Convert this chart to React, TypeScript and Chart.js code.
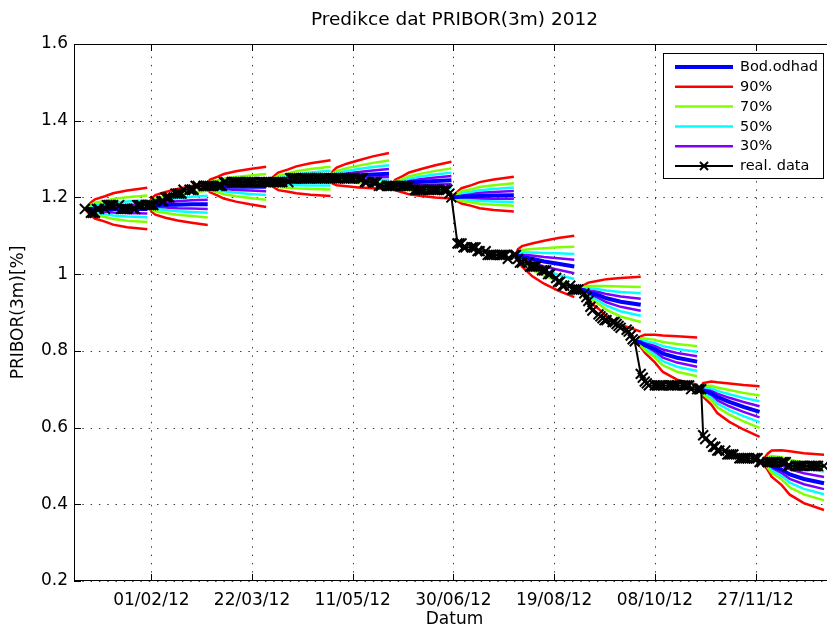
import React, { useEffect, useRef } from 'react';
import { Chart, registerables } from 'chart.js';
Chart.register(...registerables);

// ---------- texts ----------
const titleText = 'Predikce dat PRIBOR(3m) 2012';
const xTitleText = 'Datum';
const yTitleText = 'PRIBOR(3m)[%]';
const xTickLabels = ['01/02/12', '22/03/12', '11/05/12', '30/06/12', '19/08/12', '08/10/12', '27/11/12'];
const yTickValues = [0.2, 0.4, 0.6, 0.8, 1.0, 1.2, 1.4, 1.6];
const xRange = { min: -7.4, max: 370.45 }; // days from 1 Jan 2012
const legendLabels = ['Bod.odhad', '90%', '70%', '50%', '30%', 'real. data'];

// ---------- real data (PRIBOR 3M, one value per business day) ----------
const realDec2011 = [1.17]; // 30/12/2011
const realJan = [1.16, 1.16, 1.16, 1.17, 1.17, 1.17, 1.18, 1.18, 1.18, 1.18, 1.18, 1.17, 1.17, 1.17, 1.17, 1.17, 1.17, 1.18, 1.18, 1.18, 1.18, 1.18];
const realFeb = [1.18, 1.18, 1.19, 1.19, 1.19, 1.2, 1.2, 1.2, 1.21, 1.21, 1.21, 1.21, 1.22, 1.22, 1.22, 1.22, 1.23, 1.23, 1.23, 1.23, 1.23];
const realMar = [1.23, 1.23, 1.23, 1.23, 1.23, 1.24, 1.24, 1.24, 1.24, 1.24, 1.24, 1.24, 1.24, 1.24, 1.24, 1.24, 1.24, 1.24, 1.24, 1.24, 1.24, 1.24];
const realApr = [1.24, 1.24, 1.24, 1.24, 1.24, 1.24, 1.25, 1.25, 1.25, 1.25, 1.25, 1.25, 1.25, 1.25, 1.25, 1.25, 1.25, 1.25, 1.25, 1.25, 1.25];
const realMay = [1.25, 1.25, 1.25, 1.25, 1.25, 1.25, 1.25, 1.25, 1.25, 1.25, 1.25, 1.25, 1.24, 1.24, 1.24, 1.24, 1.24, 1.23, 1.23, 1.23, 1.23, 1.23, 1.23];
const realJun = [1.23, 1.23, 1.23, 1.23, 1.23, 1.23, 1.22, 1.22, 1.22, 1.22, 1.22, 1.22, 1.22, 1.22, 1.22, 1.22, 1.22, 1.22, 1.22, 1.21, 1.2];
const realJul = [1.08, 1.08, 1.08, 1.07, 1.07, 1.07, 1.07, 1.07, 1.06, 1.06, 1.06, 1.05, 1.05, 1.05, 1.05, 1.05, 1.05, 1.05, 1.05, 1.04, 1.05, 1.05];
const realAug = [1.04, 1.03, 1.03, 1.03, 1.02, 1.02, 1.02, 1.02, 1.01, 1.01, 1.01, 1.0, 1.0, 0.99, 0.98, 0.98, 0.97, 0.97, 0.97, 0.96, 0.96, 0.96, 0.96];
const realSep = [0.95, 0.94, 0.93, 0.915, 0.905, 0.895, 0.89, 0.885, 0.88, 0.88, 0.875, 0.875, 0.87, 0.865, 0.86, 0.855, 0.85, 0.84, 0.83, 0.825];
const realOct = [0.74, 0.73, 0.72, 0.715, 0.71, 0.71, 0.71, 0.71, 0.71, 0.71, 0.71, 0.71, 0.71, 0.71, 0.71, 0.71, 0.71, 0.71, 0.71, 0.7, 0.7, 0.7, 0.7];
const realNov = [0.58, 0.57, 0.56, 0.55, 0.55, 0.54, 0.54, 0.54, 0.53, 0.53, 0.53, 0.53, 0.52, 0.52, 0.52, 0.52, 0.52, 0.52, 0.52, 0.52, 0.51, 0.51];
const realDec = [0.51, 0.51, 0.51, 0.51, 0.51, 0.51, 0.51, 0.51, 0.5, 0.5, 0.5, 0.5, 0.5, 0.5, 0.5, 0.5, 0.5, 0.5, 0.5, 0.5, 0.5];

// ---------- monthly predictions (fan charts) ----------
const fanStartDates = ['2011-12-30', '2012-01-31', '2012-02-29', '2012-03-30', '2012-04-30', '2012-05-31', '2012-06-29', '2012-07-31', '2012-08-31', '2012-09-28', '2012-10-31', '2012-11-30'];
const fanOffsets = [0, 1, 3, 6, 10, 15, 21]; // business days ahead
const fanCenter = [
  [1.17, 1.17, 1.17, 1.17, 1.17, 1.17, 1.17],
  [1.18, 1.18, 1.18, 1.181, 1.181, 1.182, 1.182],
  [1.23, 1.23, 1.229, 1.229, 1.228, 1.228, 1.228],
  [1.24, 1.241, 1.242, 1.244, 1.246, 1.248, 1.25],
  [1.25, 1.252, 1.254, 1.256, 1.258, 1.26, 1.262],
  [1.23, 1.232, 1.235, 1.238, 1.241, 1.243, 1.245],
  [1.2, 1.201, 1.202, 1.203, 1.204, 1.205, 1.206],
  [1.05, 1.048, 1.045, 1.04, 1.033, 1.027, 1.02],
  [0.96, 0.958, 0.953, 0.945, 0.937, 0.928, 0.92],
  [0.825, 0.822, 0.815, 0.805, 0.793, 0.782, 0.772],
  [0.7, 0.697, 0.69, 0.68, 0.667, 0.654, 0.641],
  [0.51, 0.507, 0.5, 0.49, 0.478, 0.466, 0.455],
];
const fanUpper90 = [
  [1.17, 1.187, 1.195, 1.203, 1.211, 1.218, 1.225],
  [1.18, 1.197, 1.206, 1.214, 1.222, 1.23, 1.237],
  [1.23, 1.246, 1.254, 1.261, 1.268, 1.274, 1.28],
  [1.24, 1.256, 1.265, 1.273, 1.281, 1.289, 1.297],
  [1.25, 1.268, 1.278, 1.288, 1.297, 1.307, 1.316],
  [1.23, 1.246, 1.256, 1.265, 1.274, 1.284, 1.293],
  [1.2, 1.215, 1.224, 1.232, 1.24, 1.247, 1.254],
  [1.05, 1.065, 1.073, 1.08, 1.087, 1.094, 1.1],
  [0.96, 0.972, 0.978, 0.983, 0.987, 0.99, 0.993],
  [0.825, 0.838, 0.842, 0.842, 0.84, 0.838, 0.835],
  [0.7, 0.716, 0.72, 0.718, 0.715, 0.711, 0.708],
  [0.51, 0.532, 0.54, 0.541, 0.538, 0.533, 0.529],
];
const fanLower90 = [
  [1.17, 1.153, 1.145, 1.137, 1.129, 1.122, 1.117],
  [1.18, 1.163, 1.155, 1.147, 1.14, 1.134, 1.128],
  [1.23, 1.214, 1.205, 1.197, 1.189, 1.182, 1.175],
  [1.24, 1.226, 1.219, 1.215, 1.211, 1.207, 1.204],
  [1.25, 1.236, 1.232, 1.229, 1.226, 1.224, 1.222],
  [1.23, 1.219, 1.213, 1.208, 1.204, 1.2, 1.197],
  [1.2, 1.19, 1.184, 1.178, 1.172, 1.167, 1.163],
  [1.05, 1.035, 1.02, 0.995, 0.975, 0.957, 0.94],
  [0.96, 0.945, 0.93, 0.91, 0.89, 0.868, 0.85],
  [0.825, 0.81, 0.795, 0.77, 0.745, 0.725, 0.712],
  [0.7, 0.68, 0.66, 0.638, 0.615, 0.595, 0.576],
  [0.51, 0.49, 0.472, 0.45, 0.425, 0.403, 0.385],
];
// relative width of the inner intervals compared with the 90% interval
const bandFractions = [0.64, 0.41, 0.22]; // 70%, 50%, 30%

// ---------- styles ----------
const FONT = 'DejaVu Sans';
const colCenter = '#0000ff';
const bandColors = ['#80ff00', '#00ffff', '#8000ff'];
const col90 = '#ff0000';

// ---------- helpers ----------
const BASE = Date.UTC(2012, 0, 1);
const DAY = 86400000;
const dayNum = (y: number, m: number, d: number) => Math.round((Date.UTC(y, m - 1, d) - BASE) / DAY);
const isWeekday = (day: number) => { const w = new Date(BASE + day * DAY).getUTCDay(); return w !== 0 && w !== 6; };
const weekdaysOf = (y: number, m: number) => {
  const out: number[] = [];
  for (let d = 1; d <= 31; d++) {
    const dt = new Date(Date.UTC(y, m - 1, d));
    if (dt.getUTCMonth() !== m - 1) break;
    const n = dayNum(y, m, d);
    if (isWeekday(n)) out.push(n);
  }
  return out;
};
const addBusinessDays = (day: number, n: number) => {
  let d = day, k = 0;
  while (k < n) { d++; if (isWeekday(d)) k++; }
  return d;
};
const parseIso = (s: string) => { const [y, m, d] = s.split('-').map(Number); return dayNum(y, m, d); };
const parseTick = (s: string) => { const [d, m, y] = s.split('/').map(Number); return dayNum(2000 + y, m, d); };

const realMonths: [number, number, number[]][] = [
  [2012, 1, realJan], [2012, 2, realFeb], [2012, 3, realMar], [2012, 4, realApr],
  [2012, 5, realMay], [2012, 6, realJun], [2012, 7, realJul], [2012, 8, realAug],
  [2012, 9, realSep], [2012, 10, realOct], [2012, 11, realNov], [2012, 12, realDec],
];
const realPoints = [
  ...realDec2011.map((v) => ({ x: dayNum(2011, 12, 30), y: v })),
  ...realMonths.flatMap(([y, m, vals]) => weekdaysOf(y, m).slice(0, vals.length).map((d, i) => ({ x: d, y: vals[i] }))),
];
const xTickDays = xTickLabels.map(parseTick);

function buildDatasets() {
  const ds: any[] = [];
  ds.push({
    data: realPoints, borderColor: '#000', borderWidth: 2, order: 0,
    pointStyle: 'crossRot', pointRadius: 7, pointBorderWidth: 2, pointBorderColor: '#000', pointBackgroundColor: '#000',
  });
  fanStartDates.forEach((s, i) => {
    const start = parseIso(s);
    const xs = fanOffsets.map((o) => addBusinessDays(start, o));
    const mk = (vals: number[], color: string, width: number, order: number) => ({
      data: xs.map((x, j) => ({ x, y: vals[j] })), borderColor: color, borderWidth: width, pointRadius: 0, order,
    });
    const c = fanCenter[i], up = fanUpper90[i], lo = fanLower90[i];
    ds.push(mk(c, colCenter, 4, 1));
    bandFractions.forEach((f, k) => {
      ds.push(mk(c.map((v, j) => v + f * (up[j] - v)), bandColors[k], 2.5, 2 + k));
      ds.push(mk(c.map((v, j) => v + f * (lo[j] - v)), bandColors[k], 2.5, 2 + k));
    });
    ds.push(mk(up, col90, 2.5, 6));
    ds.push(mk(lo, col90, 2.5, 6));
  });
  return ds;
}

const legendStyles = [
  { color: colCenter, width: 4 },
  { color: col90, width: 2.5 },
  { color: bandColors[0], width: 2.5 },
  { color: bandColors[1], width: 2.5 },
  { color: bandColors[2], width: 2.5 },
  { color: '#000', width: 2, marker: true },
];

const framePlugin = {
  id: 'matlabFrame',
  beforeDatasetsDraw(chart: any) {
    const { ctx, chartArea: a, scales } = chart;
    ctx.save();
    ctx.strokeStyle = 'rgba(0,0,0,0.75)';
    ctx.lineWidth = 1;
    ctx.setLineDash([1.5, 6.8]);
    xTickDays.forEach((d) => {
      const x = Math.round(scales.x.getPixelForValue(d)) + 0.5;
      ctx.beginPath(); ctx.moveTo(x, a.bottom); ctx.lineTo(x, a.top); ctx.stroke();
    });
    yTickValues.forEach((v) => {
      const y = Math.round(scales.y.getPixelForValue(v)) + 0.5;
      ctx.beginPath(); ctx.moveTo(a.left, y); ctx.lineTo(a.right, y); ctx.stroke();
    });
    ctx.restore();
  },
  afterDraw(chart: any) {
    const { ctx, chartArea: a, scales } = chart;
    ctx.save();
    // box
    ctx.strokeStyle = '#000';
    ctx.lineWidth = 1;
    ctx.setLineDash([]);
    ctx.strokeRect(a.left + 0.5, a.top + 0.5, a.right - a.left - 1, a.bottom - a.top - 1);
    // inner tick marks
    const tl = 7;
    xTickDays.forEach((d) => {
      const x = Math.round(scales.x.getPixelForValue(d)) + 0.5;
      ctx.beginPath(); ctx.moveTo(x, a.bottom); ctx.lineTo(x, a.bottom - tl); ctx.stroke();
      ctx.beginPath(); ctx.moveTo(x, a.top); ctx.lineTo(x, a.top + tl); ctx.stroke();
    });
    yTickValues.forEach((v) => {
      const y = Math.round(scales.y.getPixelForValue(v)) + 0.5;
      ctx.beginPath(); ctx.moveTo(a.left, y); ctx.lineTo(a.left + tl, y); ctx.stroke();
    });
    // title & axis titles
    ctx.fillStyle = '#000';
    ctx.textAlign = 'center';
    ctx.textBaseline = 'middle';
    ctx.font = `18.5px "${FONT}"`;
    ctx.fillText(titleText, (a.left + a.right) / 2, 20);
    ctx.font = `17px "${FONT}"`;
    ctx.fillText(xTitleText, (a.left + a.right) / 2, 620);
    ctx.save();
    ctx.translate(19, (a.top + a.bottom) / 2);
    ctx.rotate(-Math.PI / 2);
    ctx.fillText(yTitleText, 0, 0);
    ctx.restore();
    // legend
    const bx = 663, by = 53, bw = 160, bh = 125;
    ctx.fillStyle = '#fff';
    ctx.fillRect(bx, by, bw, bh);
    ctx.strokeStyle = '#000';
    ctx.lineWidth = 1;
    ctx.strokeRect(bx + 0.5, by + 0.5, bw, bh);
    ctx.font = `14.5px "${FONT}"`;
    ctx.textAlign = 'left';
    legendLabels.forEach((lab, i) => {
      const st = legendStyles[i];
      const y = 67 + i * 19.8;
      ctx.strokeStyle = st.color;
      ctx.lineWidth = st.width;
      ctx.beginPath(); ctx.moveTo(675, y); ctx.lineTo(733, y); ctx.stroke();
      if (st.marker) {
        const r = 4;
        ctx.lineWidth = 2;
        ctx.beginPath();
        ctx.moveTo(704 - r, y - r); ctx.lineTo(704 + r, y + r);
        ctx.moveTo(704 - r, y + r); ctx.lineTo(704 + r, y - r);
        ctx.stroke();
      }
      ctx.fillStyle = '#000';
      ctx.fillText(lab, 740, y + 0.5);
    });
    ctx.restore();
  },
};

export default function App() {
  const ref = useRef<HTMLCanvasElement>(null);
  useEffect(() => {
    document.body.style.margin = '0';
    const chart = new Chart(ref.current as HTMLCanvasElement, {
      type: 'line',
      data: { datasets: buildDatasets() },
      options: {
        animation: false,
        responsive: false,
        events: [],
        layout: { padding: { top: 44, right: 10, left: 0, bottom: 0 } },
        plugins: { legend: { display: false }, title: { display: false }, tooltip: { enabled: false } },
        elements: { line: { tension: 0, fill: false } },
        scales: {
          x: {
            type: 'linear', min: xRange.min, max: xRange.max,
            grid: { display: false, drawTicks: false }, border: { display: false },
            afterBuildTicks: (s: any) => { s.ticks = xTickDays.map((v) => ({ value: v })); },
            afterFit: (s: any) => { s.height = 50; },
            ticks: {
              autoSkip: false, maxRotation: 0, minRotation: 0, padding: 9, color: '#000',
              font: { family: FONT, size: 17 },
              callback: (_v: any, i: number) => xTickLabels[i],
            },
          },
          y: {
            type: 'linear', min: 0.2, max: 1.6,
            grid: { display: false, drawTicks: false }, border: { display: false },
            afterBuildTicks: (s: any) => { s.ticks = yTickValues.map((v) => ({ value: v })); },
            afterFit: (s: any) => { s.width = 74; },
            ticks: {
              padding: 6, color: '#000', font: { family: FONT, size: 17 },
              callback: (v: any) => String(Number(Number(v).toFixed(1))),
            },
          },
        },
      } as any,
      plugins: [framePlugin],
    });
    return () => chart.destroy();
  }, []);
  return (
    <div style={{ width: 827, height: 631, overflow: 'hidden', position: 'relative', background: '#fff' }}>
      <canvas ref={ref} width={845} height={631} style={{ width: '845px', height: '631px', display: 'block' }} />
    </div>
  );
}
